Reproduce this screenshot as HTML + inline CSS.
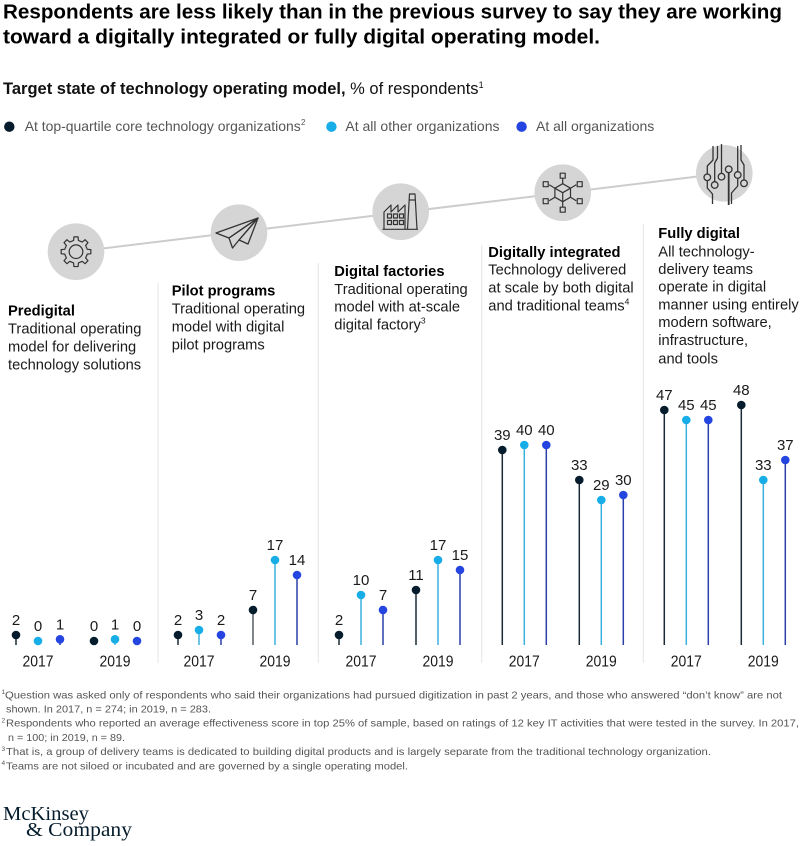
<!DOCTYPE html>
<html>
<head>
<meta charset="utf-8">
<style>
  html,body{margin:0;padding:0;background:#fff;}
  svg{display:block;}
  text{font-family:"Liberation Sans", Arial, sans-serif;}
  .serif{font-family:"Liberation Serif", "Times New Roman", serif;}
</style>
</head>
<body>
<svg width="804" height="846" viewBox="0 0 804 846" xmlns="http://www.w3.org/2000/svg">
  <rect width="804" height="846" fill="#fff"/>

  <!-- Title -->
  <text x="3" y="18.5" font-size="20" font-weight="bold" fill="#000" textLength="779" lengthAdjust="spacingAndGlyphs">Respondents are less likely than in the previous survey to say they are working</text>
  <text x="3" y="43.5" font-size="20" font-weight="bold" fill="#000" textLength="597" lengthAdjust="spacingAndGlyphs">toward a digitally integrated or fully digital operating model.</text>

  <!-- Subtitle -->
  <text x="3" y="94" font-size="16.5" fill="#111"><tspan font-weight="bold">Target state of technology operating model,</tspan><tspan> % of respondents</tspan><tspan font-size="9" dy="-6">1</tspan></text>

  <!-- Legend -->
  <circle cx="9.3" cy="126.7" r="5.2" fill="#051c2c"/>
  <text x="24.7" y="131" font-size="14" fill="#555" textLength="276" lengthAdjust="spacingAndGlyphs">At top-quartile core technology organizations</text>
  <text x="301" y="125" font-size="8" fill="#555">2</text>
  <circle cx="331.4" cy="126.7" r="5.2" fill="#17aee8"/>
  <text x="345.4" y="131" font-size="14" fill="#555">At all other organizations</text>
  <circle cx="521.6" cy="126.7" r="5.2" fill="#2545e0"/>
  <text x="536" y="131" font-size="14" fill="#555">At all organizations</text>

  <!-- Connecting line -->
  <line x1="76" y1="251.7" x2="724.3" y2="173.3" stroke="#cccccc" stroke-width="2"/>

  <!-- Icon circles -->
  <circle cx="76" cy="251.7" r="28.3" fill="#d5d5d5"/>
  <circle cx="239" cy="232.7" r="28.3" fill="#d5d5d5"/>
  <circle cx="400.7" cy="211.7" r="28.3" fill="#d5d5d5"/>
  <circle cx="562.7" cy="192.7" r="28.3" fill="#d5d5d5"/>
  <circle cx="724.3" cy="173.3" r="28.3" fill="#d5d5d5"/>

  <!-- Gear -->
  <g transform="translate(76,251.7)" fill="none" stroke="#333" stroke-width="1.2" stroke-linejoin="round">
    <polygon points="-2.39,-11.25 -2.09,-14.85 2.09,-14.85 2.39,-11.25 6.26,-9.65 9.03,-11.98 11.98,-9.03 9.65,-6.26 11.25,-2.39 14.85,-2.09 14.85,2.09 11.25,2.39 9.65,6.26 11.98,9.03 9.03,11.98 6.26,9.65 2.39,11.25 2.09,14.85 -2.09,14.85 -2.39,11.25 -6.26,9.65 -9.03,11.98 -11.98,9.03 -9.65,6.26 -11.25,2.39 -14.85,2.09 -14.85,-2.09 -11.25,-2.39 -9.65,-6.26 -11.98,-9.03 -9.03,-11.98 -6.26,-9.65"/>
    <circle cx="0" cy="0" r="6.8"/>
  </g>

  <!-- Paper plane -->
  <g fill="none" stroke="#333" stroke-width="1.3" stroke-linejoin="round">
    <path d="M258,218 L216,233 L229,238 Z"/>
    <path d="M258,218 L229,238 L232.5,248 L239,240 Z"/>
    <path d="M258,218 L239,240 L248,244 Z"/>
  </g>

  <!-- Factory -->
  <g fill="none" stroke="#333" stroke-width="1.2" stroke-linejoin="round">
    <path d="M382.5,229.3 H418"/>
    <path d="M384,229.3 V212 L391,205 V212 L398,205 V212 L405,205 V229.3"/>
    <path d="M407.5,229.3 L409.5,194 H415 L417,229.3"/>
    <path d="M409.2,200 H415.3"/>
    <rect x="387.5" y="214" width="4" height="4"/>
    <rect x="393.5" y="214" width="4" height="4"/>
    <rect x="399.5" y="214" width="4" height="4"/>
    <rect x="387.5" y="220.5" width="4" height="4"/>
    <rect x="393.5" y="220.5" width="4" height="4"/>
    <rect x="399.5" y="220.5" width="4" height="4"/>
  </g>

  <!-- Cube network -->
  <g transform="translate(562.7,192.7)" fill="none" stroke="#333" stroke-width="1.2" stroke-linejoin="round">
    <polygon points="0,-9 7.8,-4.5 7.8,4.5 0,9 -7.8,4.5 -7.8,-4.5"/>
    <path d="M-7.8,-4.5 L0,0 L7.8,-4.5 M0,0 V9"/>
    <path d="M0,-9 V-14.5 M0,9 V14.5 M-7.8,-4.5 L-13.5,-8 M-7.8,4.5 L-13.5,8 M7.8,-4.5 L13.5,-8 M7.8,4.5 L13.5,8"/>
    <rect x="-2.5" y="-19.5" width="5" height="5"/>
    <rect x="-2.5" y="14.5" width="5" height="5"/>
    <rect x="-19.5" y="-11" width="5" height="5"/>
    <rect x="-19.5" y="6" width="5" height="5"/>
    <rect x="14.5" y="-11" width="5" height="5"/>
    <rect x="14.5" y="6" width="5" height="5"/>
  </g>

  <!-- Circuit -->
  <g fill="none" stroke="#333" stroke-width="1.3" stroke-linejoin="round">
    <path d="M713,146 V160 L707.3,166 V174"/>
    <path d="M707.3,180.6 V188 L712.5,194 V204"/>
    <path d="M717.5,146 V158 L714.7,163 V181.7"/>
    <path d="M721.5,144 V173.4"/>
    <path d="M728.7,172.6 V205" stroke-width="1.8"/>
    <path d="M737.7,146 V171.7"/>
    <path d="M737.7,178.3 V186 L731.5,193 V204"/>
    <path d="M741,145 V160 L744,165 V180"/>
    <circle cx="707.3" cy="177.3" r="3.3"/>
    <circle cx="714.7" cy="185" r="3.3"/>
    <circle cx="721.5" cy="176.7" r="3.3"/>
    <circle cx="728.7" cy="169.3" r="3.3"/>
    <circle cx="737.7" cy="175" r="3.3"/>
    <circle cx="744" cy="183.3" r="3.3"/>
  </g>

  <!-- Dividers -->
  <g stroke="#e4e4e4" stroke-width="1">
    <line x1="158" y1="283" x2="158" y2="663"/>
    <line x1="318.3" y1="263" x2="318.3" y2="663"/>
    <line x1="481.7" y1="245" x2="481.7" y2="663"/>
    <line x1="643.3" y1="224" x2="643.3" y2="663"/>
  </g>

  <!-- Category text -->
  <g font-size="14.7" fill="#1a1a1a">
    <text x="8" y="315.3" font-weight="bold" fill="#000">Predigital</text>
    <text x="8" y="333.6">Traditional operating</text>
    <text x="8" y="351.3">model for delivering</text>
    <text x="8" y="369.3">technology solutions</text>

    <text x="171.7" y="295.3" font-weight="bold" fill="#000">Pilot programs</text>
    <text x="171.7" y="313.6">Traditional operating</text>
    <text x="171.7" y="331.3">model with digital</text>
    <text x="171.7" y="349.3">pilot programs</text>

    <text x="334.3" y="276" font-weight="bold" fill="#000">Digital factories</text>
    <text x="334.3" y="293.8">Traditional operating</text>
    <text x="334.3" y="311.5">model with at-scale</text>
    <text x="334.3" y="329.6">digital factory<tspan font-size="8.5" dy="-6">3</tspan></text>

    <text x="488.3" y="257" font-weight="bold" fill="#000">Digitally integrated</text>
    <text x="488.3" y="274.6">Technology delivered</text>
    <text x="488.3" y="292.3">at scale by both digital</text>
    <text x="488.3" y="310.3">and traditional teams<tspan font-size="8.5" dy="-6">4</tspan></text>

    <text x="658.3" y="238" font-weight="bold" fill="#000">Fully digital</text>
    <text x="658.3" y="256.3">All technology-</text>
    <text x="658.3" y="273.8">delivery teams</text>
    <text x="658.3" y="291.5">operate in digital</text>
    <text x="658.3" y="309.3">manner using entirely</text>
    <text x="658.3" y="327.2">modern software,</text>
    <text x="658.3" y="345.2">infrastructure,</text>
    <text x="658.3" y="363.3">and tools</text>
  </g>

  <!-- Stems -->
  <g stroke-width="1.5">
    <!-- Predigital -->
    <line x1="16" y1="635" x2="16" y2="645" stroke="#1a2a36"/>
    <line x1="60" y1="639.5" x2="60" y2="645" stroke="#2b3fa8"/>
    <line x1="115" y1="639.5" x2="115" y2="645" stroke="#3ab0de"/>
    <!-- Pilot -->
    <line x1="178" y1="635" x2="178" y2="645" stroke="#1a2a36"/>
    <line x1="199" y1="630" x2="199" y2="645" stroke="#3ab0de"/>
    <line x1="221" y1="635" x2="221" y2="645" stroke="#2b3fa8"/>
    <line x1="253" y1="610" x2="253" y2="645" stroke="#555c63"/>
    <line x1="275" y1="560" x2="275" y2="645" stroke="#3ab0de"/>
    <line x1="297" y1="575" x2="297" y2="645" stroke="#2b3fa8"/>
    <!-- Factories -->
    <line x1="339" y1="635" x2="339" y2="645" stroke="#1a2a36"/>
    <line x1="361" y1="595" x2="361" y2="645" stroke="#3ab0de"/>
    <line x1="383" y1="610" x2="383" y2="645" stroke="#2b3fa8"/>
    <line x1="416" y1="590" x2="416" y2="645" stroke="#1a2a36"/>
    <line x1="438" y1="560" x2="438" y2="645" stroke="#3ab0de"/>
    <line x1="460" y1="570" x2="460" y2="645" stroke="#2b3fa8"/>
    <!-- Digitally integrated -->
    <line x1="502.3" y1="450" x2="502.3" y2="645" stroke="#1a2a36"/>
    <line x1="524.3" y1="445" x2="524.3" y2="645" stroke="#3ab0de"/>
    <line x1="546.3" y1="445" x2="546.3" y2="645" stroke="#2b3fa8"/>
    <line x1="579.3" y1="480" x2="579.3" y2="645" stroke="#1a2a36"/>
    <line x1="601.3" y1="500" x2="601.3" y2="645" stroke="#3ab0de"/>
    <line x1="623.3" y1="495" x2="623.3" y2="645" stroke="#2b3fa8"/>
    <!-- Fully digital -->
    <line x1="664.3" y1="410" x2="664.3" y2="645" stroke="#1a2a36"/>
    <line x1="686.3" y1="420" x2="686.3" y2="645" stroke="#3ab0de"/>
    <line x1="708.3" y1="420" x2="708.3" y2="645" stroke="#2b3fa8"/>
    <line x1="741.3" y1="405" x2="741.3" y2="645" stroke="#1a2a36"/>
    <line x1="763.3" y1="480" x2="763.3" y2="645" stroke="#3ab0de"/>
    <line x1="785.3" y1="460" x2="785.3" y2="645" stroke="#2b3fa8"/>
  </g>

  <!-- Dots -->
  <g>
    <circle cx="16" cy="635" r="4.3" fill="#051c2c"/>
    <circle cx="38" cy="641" r="4.3" fill="#17aee8"/>
    <circle cx="60" cy="639.3" r="4.3" fill="#2545e0"/>
    <circle cx="94" cy="641" r="4.3" fill="#051c2c"/>
    <circle cx="115" cy="639.3" r="4.3" fill="#17aee8"/>
    <circle cx="137" cy="641" r="4.3" fill="#2545e0"/>

    <circle cx="178" cy="635" r="4.3" fill="#051c2c"/>
    <circle cx="199" cy="630" r="4.3" fill="#17aee8"/>
    <circle cx="221" cy="635" r="4.3" fill="#2545e0"/>
    <circle cx="253" cy="610" r="4.3" fill="#051c2c"/>
    <circle cx="275" cy="560" r="4.3" fill="#17aee8"/>
    <circle cx="297" cy="575" r="4.3" fill="#2545e0"/>

    <circle cx="339" cy="635" r="4.3" fill="#051c2c"/>
    <circle cx="361" cy="595" r="4.3" fill="#17aee8"/>
    <circle cx="383" cy="610" r="4.3" fill="#2545e0"/>
    <circle cx="416" cy="590" r="4.3" fill="#051c2c"/>
    <circle cx="438" cy="560" r="4.3" fill="#17aee8"/>
    <circle cx="460" cy="570" r="4.3" fill="#2545e0"/>

    <circle cx="502.3" cy="450" r="4.3" fill="#051c2c"/>
    <circle cx="524.3" cy="445" r="4.3" fill="#17aee8"/>
    <circle cx="546.3" cy="445" r="4.3" fill="#2545e0"/>
    <circle cx="579.3" cy="480" r="4.3" fill="#051c2c"/>
    <circle cx="601.3" cy="500" r="4.3" fill="#17aee8"/>
    <circle cx="623.3" cy="495" r="4.3" fill="#2545e0"/>

    <circle cx="664.3" cy="410" r="4.3" fill="#051c2c"/>
    <circle cx="686.3" cy="420" r="4.3" fill="#17aee8"/>
    <circle cx="708.3" cy="420" r="4.3" fill="#2545e0"/>
    <circle cx="741.3" cy="405" r="4.3" fill="#051c2c"/>
    <circle cx="763.3" cy="480" r="4.3" fill="#17aee8"/>
    <circle cx="785.3" cy="460" r="4.3" fill="#2545e0"/>
  </g>

  <!-- Value labels -->
  <g font-size="15" fill="#1a1a1a" text-anchor="middle">
    <text x="16" y="625">2</text>
    <text x="38" y="631">0</text>
    <text x="60" y="629.3">1</text>
    <text x="94" y="631">0</text>
    <text x="115" y="629.3">1</text>
    <text x="137" y="631">0</text>

    <text x="178" y="625">2</text>
    <text x="199" y="620">3</text>
    <text x="221" y="625">2</text>
    <text x="253" y="600">7</text>
    <text x="275" y="550">17</text>
    <text x="297" y="565">14</text>

    <text x="339" y="625">2</text>
    <text x="361" y="585">10</text>
    <text x="383" y="600">7</text>
    <text x="416" y="580">11</text>
    <text x="438" y="550">17</text>
    <text x="460" y="560">15</text>

    <text x="502.3" y="440">39</text>
    <text x="524.3" y="435">40</text>
    <text x="546.3" y="435">40</text>
    <text x="579.3" y="470">33</text>
    <text x="601.3" y="490">29</text>
    <text x="623.3" y="485">30</text>

    <text x="664.3" y="400">47</text>
    <text x="686.3" y="410">45</text>
    <text x="708.3" y="410">45</text>
    <text x="741.3" y="395">48</text>
    <text x="763.3" y="470">33</text>
    <text x="785.3" y="450">37</text>
  </g>

  <!-- Year labels -->
  <g font-size="16" fill="#1a1a1a" text-anchor="middle">
    <text x="38" y="666.5" textLength="31" lengthAdjust="spacingAndGlyphs">2017</text>
    <text x="115" y="666.5" textLength="31" lengthAdjust="spacingAndGlyphs">2019</text>
    <text x="199" y="666.5" textLength="31" lengthAdjust="spacingAndGlyphs">2017</text>
    <text x="275" y="666.5" textLength="31" lengthAdjust="spacingAndGlyphs">2019</text>
    <text x="361" y="666.5" textLength="31" lengthAdjust="spacingAndGlyphs">2017</text>
    <text x="438" y="666.5" textLength="31" lengthAdjust="spacingAndGlyphs">2019</text>
    <text x="524.3" y="666.5" textLength="31" lengthAdjust="spacingAndGlyphs">2017</text>
    <text x="601.3" y="666.5" textLength="31" lengthAdjust="spacingAndGlyphs">2019</text>
    <text x="686.3" y="666.5" textLength="31" lengthAdjust="spacingAndGlyphs">2017</text>
    <text x="763.3" y="666.5" textLength="31" lengthAdjust="spacingAndGlyphs">2019</text>
  </g>

  <!-- Footnotes -->
  <g font-size="10.5" fill="#555">
    <text x="1.5" y="694" font-size="6.5">1</text>
    <text x="5" y="698.3" textLength="777" lengthAdjust="spacingAndGlyphs">Question was asked only of respondents who said their organizations had pursued digitization in past 2 years, and those who answered “don’t know” are not</text>
    <text x="6" y="712.5" textLength="205" lengthAdjust="spacingAndGlyphs">shown. In 2017, n = 274; in 2019, n = 283.</text>
    <text x="1.5" y="722.5" font-size="6.5">2</text>
    <text x="6" y="726.7" textLength="793" lengthAdjust="spacingAndGlyphs">Respondents who reported an average effectiveness score in top 25% of sample, based on ratings of 12 key IT activities that were tested in the survey. In 2017,</text>
    <text x="8" y="740.8" textLength="117" lengthAdjust="spacingAndGlyphs">n = 100; in 2019, n = 89.</text>
    <text x="1.5" y="751" font-size="6.5">3</text>
    <text x="6" y="755" textLength="705" lengthAdjust="spacingAndGlyphs">That is, a group of delivery teams is dedicated to building digital products and is largely separate from the traditional technology organization.</text>
    <text x="1.5" y="765.2" font-size="6.5">4</text>
    <text x="6" y="769.3" textLength="402" lengthAdjust="spacingAndGlyphs">Teams are not siloed or incubated and are governed by a single operating model.</text>
  </g>

  <!-- Logo -->
  <text class="serif" x="3" y="820" font-size="19.5" fill="#051c2c" textLength="86" lengthAdjust="spacingAndGlyphs">McKinsey</text>
  <text class="serif" x="26" y="836" font-size="20" fill="#051c2c" textLength="106" lengthAdjust="spacingAndGlyphs">&amp; Company</text>
</svg>
</body>
</html>
